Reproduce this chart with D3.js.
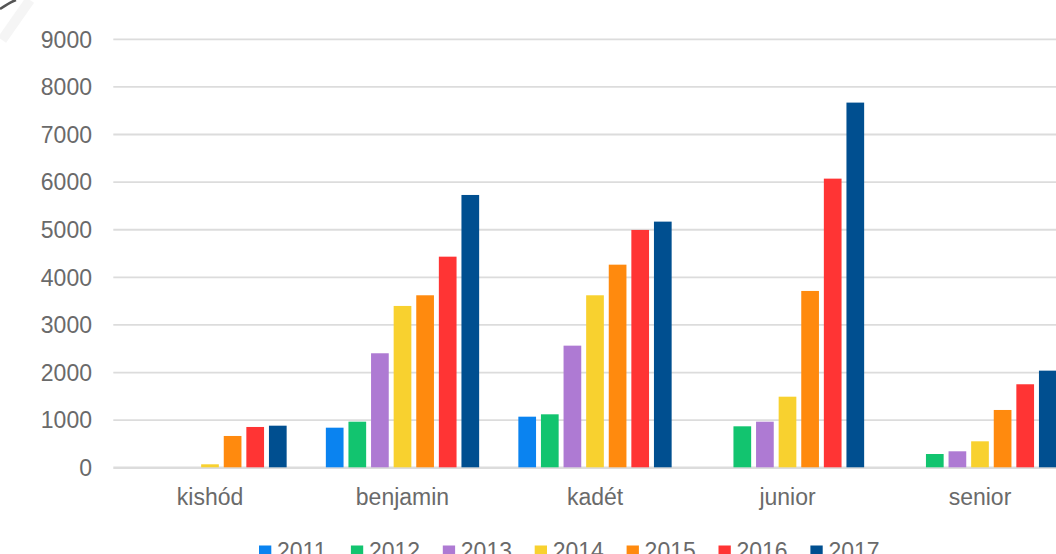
<!DOCTYPE html>
<html>
<head>
<meta charset="utf-8">
<script src="https://cdn.jsdelivr.net/npm/d3@7/dist/d3.min.js"></script>
<style>
html,body{margin:0;padding:0;background:#fff;overflow:hidden;}
svg{display:block;}
text{font-family:"Liberation Sans",Arial,sans-serif;fill:#6a6a6a;}
</style>
</head>
<body>
<svg id="chart" width="1056" height="554"></svg>
<script>
const categories = ["kishód","benjamin","kadét","junior","senior"];
const years = ["2011","2012","2013","2014","2015","2016","2017"];
const v2011 = [0, 832, 1063, 0, 0];
const v2012 = [0, 958, 1113, 861, 279];
const v2013 = [0, 2395, 2555, 958, 336];
const v2014 = [63, 3389, 3613, 1483, 546];
const v2015 = [658, 3613, 4256, 3704, 1204];
const v2016 = [847, 4424, 4985, 6063, 1744];
const v2017 = [874, 5720, 5160, 7660, 2030];
const yTicks = [0,1000,2000,3000,4000,5000,6000,7000,8000,9000];
const colors = ["#0A83F0","#12C46F","#AE7AD3","#F8D12F","#FF8A0E","#FF3434","#004F90"];

const seriesValues = [v2011,v2012,v2013,v2014,v2015,v2016,v2017];
const data = [];
categories.forEach((c,ci)=>{
  years.forEach((y,yi)=>{
    data.push({cat:c, year:y, value:seriesValues[yi][ci]});
  });
});

const svg = d3.select("#chart");

// scan smudge at top-left corner
svg.append("path").attr("d","M0,9 C5,6 10,2 16,0").attr("stroke","#555").attr("stroke-width",2.5).attr("fill","none");
svg.append("path").attr("d","M2,40 L30,0").attr("stroke","#eee").attr("stroke-width",10).attr("fill","none").attr("opacity",0.6);

const x0 = d3.scaleBand().domain(categories).range([113.75, 1076.25]).padding(0);
const innerW = 22.6*(7-0.217);
const x1 = d3.scaleBand().domain(years)
  .range([(x0.bandwidth()-innerW)/2, (x0.bandwidth()+innerW)/2])
  .paddingInner(0.217).paddingOuter(0);
const y = d3.scaleLinear().domain([0,9000]).range([467.3, 38.8]);
const color = d3.scaleOrdinal().domain(years).range(colors);

// gridlines
const grid = svg.append("g").attr("transform","translate(113.3,0)")
  .call(d3.axisLeft(y).tickValues(yTicks).tickSize(-1000).tickFormat(""));
grid.select(".domain").remove();
grid.selectAll(".tick line").attr("stroke","#dcdcdc").attr("stroke-width",d=>d===0?2.6:1.8);

// y labels
const ylab = svg.append("g").attr("transform","translate(92,0)")
  .call(d3.axisLeft(y).tickValues(yTicks).tickSize(0).tickPadding(0).tickFormat(d3.format("d")));
ylab.select(".domain").remove();
ylab.selectAll("text").attr("font-size","23px").attr("fill","#6a6a6a")
  .attr("font-family","'Liberation Sans',Arial,sans-serif").attr("dy","0.36em");

// bars
svg.append("g").selectAll("rect").data(data.filter(d=>d.value>0)).join("rect")
  .attr("x", d=>x0(d.cat)+x1(d.year))
  .attr("width", x1.bandwidth())
  .attr("y", d=>y(d.value))
  .attr("height", d=>y(0)-y(d.value))
  .attr("fill", d=>color(d.year));

// x labels
const xax = svg.append("g").attr("transform","translate(0,505)")
  .call(d3.axisBottom(x0).tickSize(0).tickPadding(0));
xax.select(".domain").remove();
xax.selectAll("text").attr("font-size","23px").attr("fill","#6a6a6a")
  .attr("font-family","'Liberation Sans',Arial,sans-serif").attr("dy","0");

// legend
const lg = svg.append("g").selectAll("g").data(years).join("g")
  .attr("transform",(d,i)=>`translate(${259+i*91.9},0)`);
lg.append("rect").attr("x",0).attr("y",545.5).attr("width",12.3).attr("height",12.3).attr("fill",d=>color(d));
lg.append("text").attr("x",18).attr("y",559).attr("font-size","23px").text(d=>d);
</script>
</body>
</html>
